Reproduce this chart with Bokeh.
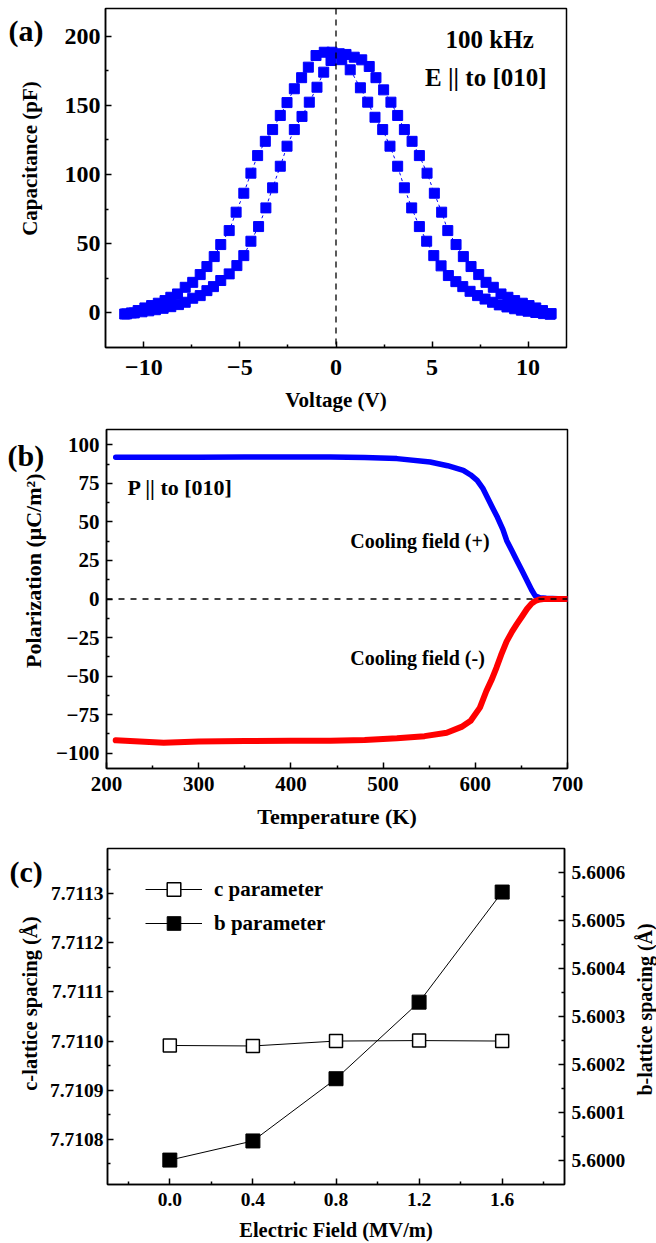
import math
from bokeh.plotting import figure
from bokeh.models import (Range1d, LinearAxis, FixedTicker, Span, Label, Legend,
                          LegendItem, PrintfTickFormatter)
from bokeh.layouts import column, row
from bokeh.embed import file_html
from bokeh.resources import INLINE

FONT = "Liberation Serif"

# ---------------- Panel (a): C-V butterfly ----------------
v_up = [-11.0, -10.65, -10.3, -9.95, -9.6, -9.25, -8.9, -8.6, -8.25, -7.85, -7.46, -7.07,
        -6.72, -6.34, -6.0, -5.56, -5.2, -4.8, -4.43, -4.08, -3.68, -3.3, -2.9, -2.55,
        -2.17, -1.79, -1.44, -1.04, -0.61, -0.21, 0.3, 0.74, 1.27, 1.65, 2.03, 2.43,
        2.81, 3.21, 3.56, 3.94, 4.34, 4.72, 5.09, 5.47, 5.85, 6.24, 6.6, 6.98, 7.37,
        7.76, 8.15, 8.5, 8.9, 9.3, 9.65, 10.0, 10.4, 10.8, 11.15]
c_up = [-0.8, 0, 1.7, 3.6, 5.3, 7.0, 8.9, 11.3, 13.7, 18.5, 22.1, 27.7, 33.5, 40.7, 49.4,
        59.5, 72.8, 86.5, 101, 113.7, 124, 132.5, 142.7, 152, 162, 170, 177.6, 186,
        188.4, 188.4, 183, 175.7, 162.7, 152.3, 141.4, 132.5, 120.5, 106, 90.4, 75.9,
        62.4, 51.8, 41.4, 34, 27, 22.6, 19, 15.6, 12.5, 10, 7.7, 5.8, 4.3, 3, 2, 1.2,
        0.3, -0.5, -1]
v_down = [11.2, 10.75, 10.4, 10.05, 9.7, 9.3, 8.95, 8.59, 8.19, 7.81, 7.43, 7.03, 6.63,
          6.25, 5.82, 5.5, 5.12, 4.74, 4.34, 3.96, 3.56, 3.21, 2.86, 2.48, 2.08, 1.73,
          1.34, 0.95, 0.52, 0.17, -0.26, -0.64, -0.99, -1.39, -1.77, -2.17, -2.55, -2.9,
          -3.3, -3.65, -4.03, -4.43, -4.8, -5.16, -5.56, -6.0, -6.38, -6.72, -7.07, -7.46,
          -7.85, -8.2, -8.6, -9.0, -9.4, -9.75, -10.1, -10.5, -10.9]
c_down = [-0.5, 1.7, 3.6, 5.3, 7.0, 8.9, 11.3, 13.7, 18.5, 22.1, 27.7, 33.5, 40.7, 49.4,
          59.5, 72.8, 86.5, 101, 113.7, 124, 132.5, 142.7, 152.3, 161.2, 170, 178.1,
          182.9, 184.8, 186.8, 187.3, 182.4, 174, 163.1, 152.3, 142, 132.5, 120.5, 106,
          90.4, 75.9, 62.4, 51.8, 41.4, 34.2, 28.2, 23.4, 19, 16.1, 12.5, 10.6, 7.7, 6,
          4.5, 3.3, 2.3, 1.5, 0.8, 0, -0.7]
a_xticks = [-10, -5, 0, 5, 10]
a_xminor = [-7.5, -2.5, 2.5, 7.5]
a_yticks = [0, 50, 100, 150, 200]
a_yminor = [25, 75, 125, 175]

# ---------------- Panel (b): polarization vs T ----------------
t_pos = [210, 250, 300, 350, 400, 443, 480, 515, 551, 570, 587, 595, 602, 608, 613, 618,
         624, 630, 634, 640, 645, 651, 656, 661, 665, 670, 677, 690, 700]
p_pos = [92, 92, 92, 92.2, 92.2, 92.2, 91.8, 91.1, 88.9, 86.5, 83.5, 80.5, 77, 72, 66, 60,
         53, 45, 38, 31, 25, 18, 12, 6, 2, 0.8, 0.5, 0.2, 0]
t_neg = [210, 262, 300, 350, 400, 443, 480, 515, 545, 569, 585, 595, 605, 612, 618, 623,
         628, 634, 640, 645, 651, 656, 661, 665, 670, 674, 685, 700]
p_neg = [-91.7, -93.3, -92.5, -92.2, -92, -92, -91.5, -90.4, -89, -86.8, -83, -79, -70.5,
         -59.7, -52, -44.5, -36.3, -27.5, -21, -16.3, -11, -6.5, -3, -1.3, -0.3, 0, 0, 0]
b_xticks = [200, 300, 400, 500, 600, 700]
b_xminor = [250, 350, 450, 550, 650]
b_yticks = [-100, -75, -50, -25, 0, 25, 50, 75, 100]
b_yminor = [-87.5, -62.5, -37.5, -12.5, 12.5, 37.5, 62.5, 87.5]

# ---------------- Panel (c): lattice spacings ----------------
field = [0.0, 0.4, 0.8, 1.2, 1.6]
c_param = [7.710991, 7.710990, 7.711000, 7.711001, 7.711000]
b_param = [5.600000, 5.600040, 5.600170, 5.600330, 5.600560]
c_xticks = [0.0, 0.4, 0.8, 1.2, 1.6]
c_xminor = [-0.2, 0.2, 0.6, 1.0, 1.4, 1.8]
c_lticks = [7.7108, 7.7109, 7.7110, 7.7111, 7.7112, 7.7113]
c_lminor = [7.71075, 7.71085, 7.71095, 7.71105, 7.71115, 7.71125, 7.71135]
c_rticks = [5.6000, 5.6001, 5.6002, 5.6003, 5.6004, 5.6005, 5.6006]
c_rminor = [5.60005, 5.60015, 5.60025, 5.60035, 5.60045, 5.60055]


def style_axis(ax, tick_size, label_size, standoff, label_standoff):
    ax.major_label_text_font = FONT
    ax.major_label_text_font_style = "bold"
    ax.major_label_text_font_size = tick_size
    ax.major_label_text_color = "black"
    ax.axis_label_text_font = FONT
    ax.axis_label_text_font_style = "bold"
    ax.axis_label_text_font_size = label_size
    ax.axis_label_text_color = "black"
    ax.major_label_standoff = standoff
    ax.axis_label_standoff = label_standoff
    ax.major_tick_in = 6
    ax.major_tick_out = 0
    ax.minor_tick_in = 3
    ax.minor_tick_out = 0
    ax.axis_line_width = 1.5
    ax.major_tick_line_width = 1.5
    ax.minor_tick_line_width = 1.5
    ax.axis_line_color = "black"
    ax.major_tick_line_color = "black"
    ax.minor_tick_line_color = "black"


def base_fig(width, height, xr, yr, ml, mr, mt, mb):
    p = figure(width=width, height=height, x_range=xr, y_range=yr,
               output_backend="svg", toolbar_location=None,
               min_border_left=ml, min_border_right=mr,
               min_border_top=mt, min_border_bottom=mb)
    p.grid.visible = False
    p.outline_line_color = "black"
    p.outline_line_width = 1.5
    p.outline_line_alpha = 1.0
    p.background_fill_color = "white"
    p.border_fill_color = "white"
    return p


def side_fig(width, height):
    s = figure(width=width, height=height, x_range=Range1d(0, width),
               y_range=Range1d(0, height), output_backend="svg", toolbar_location=None,
               min_border=0, x_axis_location=None, y_axis_location=None)
    s.grid.visible = False
    s.outline_line_color = None
    s.background_fill_color = "white"
    s.border_fill_color = "white"
    return s


def add_text(p, x, y, text, size, align="left", baseline="middle", angle=0.0):
    lab = Label(x=x, y=y, text=text, text_font=FONT, text_font_style="bold",
                text_font_size=size, text_align=align, text_baseline=baseline,
                text_color="black", angle=angle)
    p.add_layout(lab)


# ---- (a)
HA = 418
sa = side_fig(48, HA)
add_text(sa, 8, HA - 7, "(a)", "30px", baseline="top")
add_text(sa, 29, HA - 185, "Capacitance (pF)", "21px", align="center", angle=math.pi / 2)

pa = base_fig(608, HA, Range1d(-12, 12), Range1d(-25, 220), 57, 90, 8, 71)
pa.xaxis.ticker = FixedTicker(ticks=a_xticks, minor_ticks=a_xminor)
pa.yaxis.ticker = FixedTicker(ticks=a_yticks, minor_ticks=a_yminor)
pa.xaxis.axis_label = "Voltage (V)"
style_axis(pa.xaxis[0], "24px", "21px", 12, 10)
style_axis(pa.yaxis[0], "24px", "21px", 5, 18)
pa.add_layout(Span(location=0, dimension="height", line_color="black",
                   line_dash="6 5", line_width=1.3))
pa.line(v_up, c_up, line_color="blue", line_width=1, line_dash="3 3")
pa.line(v_down, c_down, line_color="blue", line_width=1, line_dash="3 3")
pa.scatter(v_up, c_up, marker="square", size=10, fill_color="#0000FF", line_color="#0000FF")
pa.scatter(v_down, c_down, marker="square", size=10, fill_color="#0000FF", line_color="#0000FF")
add_text(pa, 8.0, 197.6, "100 kHz", "25px", align="center")
add_text(pa, 7.8, 169.8, "E || to [010]", "25px", align="center")

# ---- (b)
HB = 420
sb = side_fig(48, HB)
add_text(sb, 7, HB - 12, "(b)", "30px", baseline="top")
add_text(sb, 33, HB - 175, "Polarization (μC/m²)", "22px", align="center", angle=math.pi / 2)

pb = base_fig(608, HB, Range1d(200, 700), Range1d(-110, 110), 58, 89, 11, 70)
pb.xaxis.ticker = FixedTicker(ticks=b_xticks, minor_ticks=b_xminor)
pb.yaxis.ticker = FixedTicker(ticks=b_yticks, minor_ticks=b_yminor)
pb.xaxis.axis_label = "Temperature (K)"
style_axis(pb.xaxis[0], "21px", "22px", 8, 10)
style_axis(pb.yaxis[0], "21px", "22px", 7, 14)
pb.add_layout(Span(location=0, dimension="width", line_color="black",
                   line_dash="6 6", line_width=1.3))
pb.line(t_pos, p_pos, line_color="#0000FF", line_width=5.5, line_join="round", line_cap="round")
pb.line(t_neg, p_neg, line_color="#FF0000", line_width=6, line_join="round", line_cap="round")
add_text(pb, 222.8, 72.2, "P || to [010]", "22px")
add_text(pb, 464.5, 37.9, "Cooling field (+)", "20px")
add_text(pb, 464.5, -38.0, "Cooling field (-)", "20px")

# ---- (c)
HC = 405
sc = side_fig(46, HC)
add_text(sc, 9, HC - 8, "(c)", "30px", baseline="top")
add_text(sc, 29, HC - 187, "c-lattice spacing (Å)", "20.5px", align="center", angle=math.pi / 2)
sr = side_fig(28, HC)
add_text(sr, 16, HC - 194, "b-lattice spacing (Å)", "20px", align="center", angle=math.pi / 2)

pc = base_fig(582, HC, Range1d(-0.3, 1.9), Range1d(7.710708, 7.711392), 59, 61, 10, 58)
pc.extra_y_ranges = {"b": Range1d(5.599949, 5.600651)}
pc.xaxis.ticker = FixedTicker(ticks=c_xticks, minor_ticks=c_xminor)
pc.yaxis.ticker = FixedTicker(ticks=c_lticks, minor_ticks=c_lminor)
pc.xaxis.formatter = PrintfTickFormatter(format="%.1f")
pc.yaxis.formatter = PrintfTickFormatter(format="%.4f")
pc.xaxis.axis_label = "Electric Field (MV/m)"
style_axis(pc.xaxis[0], "19.5px", "20.5px", 8, 10)
style_axis(pc.yaxis[0], "19.5px", "20.5px", 4, 10)
rax = LinearAxis(y_range_name="b",
                 ticker=FixedTicker(ticks=c_rticks, minor_ticks=c_rminor),
                 formatter=PrintfTickFormatter(format="%.4f"))
style_axis(rax, "19.5px", "20.5px", 7, 13)
pc.add_layout(rax, "right")

cl = pc.line(field, c_param, line_color="black", line_width=1)
cs = pc.scatter(field, c_param, marker="square", size=13, fill_color="white",
                line_color="black", line_width=1.5)
bl = pc.line(field, b_param, line_color="black", line_width=1, y_range_name="b")
bs = pc.scatter(field, b_param, marker="square", size=14, fill_color="black",
                line_color="black", y_range_name="b")
legend = Legend(items=[LegendItem(label="c parameter", renderers=[cl, cs]),
                       LegendItem(label="b parameter", renderers=[bl, bs])],
                location=(38, 244), glyph_width=57, glyph_height=34, label_standoff=12,
                spacing=0, padding=0, border_line_color=None, background_fill_alpha=0,
                label_text_font=FONT, label_text_font_style="bold",
                label_text_color="black",
                label_text_font_size="21px", label_height=34)
pc.add_layout(legend)

layout = column(row(sa, pa, spacing=0), row(sb, pb, spacing=0),
                row(sc, pc, sr, spacing=0), spacing=0)
open("out.html", "w").write(file_html(layout, INLINE))
